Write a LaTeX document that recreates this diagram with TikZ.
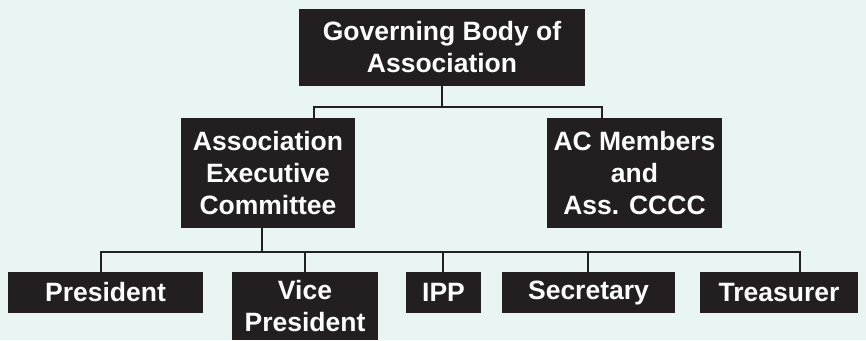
\documentclass[tikz,border=0pt]{standalone}
\usepackage{fontspec}
\setmainfont{Liberation Sans}
\usetikzlibrary{positioning}
\definecolor{bgcyan}{HTML}{E8F5F3}
\definecolor{boxblack}{HTML}{231F20}
\tikzset{
  orgbox/.style={fill=boxblack, text=white, inner sep=0pt, align=center,
    font=\bfseries\fontsize{26.5}{32}\selectfont},
  link/.style={draw=boxblack, line width=2.4pt}
}
\begin{document}
\begin{tikzpicture}[x=1pt,y=-1pt]
\fill[bgcyan] (0,0) rectangle (866,340);
\useasboundingbox (0,0) rectangle (866,340);
% top level
\node[orgbox, minimum width=286pt, minimum height=77pt] (gov) at (442,47.5) {Governing Body of\\Association};
% second level
\node[orgbox, minimum width=174pt, minimum height=110pt] (aec) at (268,173) {Association\\Executive\\Committee};
\node[orgbox, minimum width=175pt, minimum height=110pt] (acm) at (634.5,173) {AC Members\\and\\Ass. CCCC};
% third level
\node[orgbox, minimum width=195pt, minimum height=41pt] (pres) at (105.5,292.5) {President};
\node[orgbox, minimum width=146pt, minimum height=68pt, anchor=north] (vice) at (305,272) {Vice\\President};
\node[orgbox, minimum width=75pt, minimum height=41pt] (ipp) at (443.5,292.5) {IPP};
\node[orgbox, minimum width=173pt, minimum height=41pt] (sec) at (588.5,292.5) {Secretary};
\node[orgbox, minimum width=158pt, minimum height=41pt] (trea) at (779,292.5) {Treasurer};
% bus lines
\coordinate (topbus) at (442,107);
\coordinate (topl) at (314,107);
\coordinate (topr) at (602,107);
\draw[link] (gov.south) -- (topbus);
\draw[link] (aec.north -| topl) -- (topl) -- (topr) -- (acm.north -| topr);
\coordinate (lowbus) at (262,252);
\coordinate (low1) at (101,252);
\coordinate (low2) at (305,252);
\coordinate (low3) at (443,252);
\coordinate (low4) at (588,252);
\coordinate (low5) at (800,252);
\draw[link] (aec.south -| lowbus) -- (lowbus);
\draw[link] (pres.north -| low1) -- (low1) -- (low5) -- (trea.north -| low5);
\foreach \tick/\post in {low2/vice, low3/ipp, low4/sec}
  \draw[link] (\tick) -- (\post.north -| \tick);
\end{tikzpicture}
\end{document}
